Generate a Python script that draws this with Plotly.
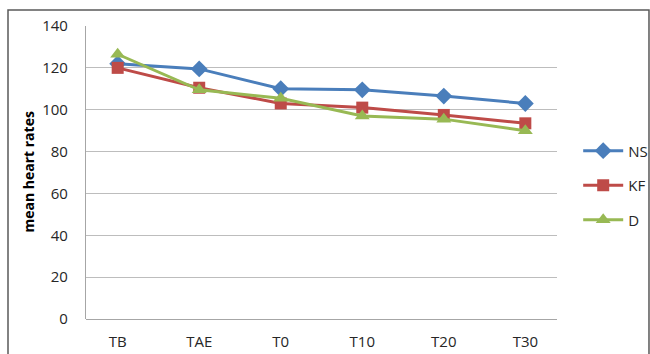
import plotly.graph_objects as go

# Mean heart rate at each measurement time, per group
times = ["TB", "TAE", "T0", "T10", "T20", "T30"]
ns_values = [122, 119.5, 110, 109.5, 106.5, 103]
kf_values = [120, 110.5, 103, 101, 97.5, 93.5]
d_values = [126.5, 109.5, 105.5, 97, 95.5, 90]

series = [
    ("NS", ns_values, "#4A7EBB", "diamond", 13),
    ("KF", kf_values, "#BE4B48", "square", 12),
    ("D", d_values, "#98B954", "triangle-up", 13),
]

fig = go.Figure()
for name, vals, color, symbol, size in series:
    fig.add_trace(go.Scatter(
        x=times, y=vals, name=name, mode="lines+markers",
        legendgroup=name,
        line=dict(color=color, width=3),
        marker=dict(symbol=symbol, size=size, color=color),
    ))

font_family = "Open Sans, Liberation Sans, sans-serif"

fig.update_layout(
    width=650, height=354,
    margin=dict(l=86, r=93, t=26, b=35, autoexpand=False),
    paper_bgcolor="white", plot_bgcolor="white",
    font=dict(family=font_family, size=15, color="#262626"),
    showlegend=True,
    legend=dict(
        x=1.045, y=0.63, xanchor="left", yanchor="top",
        font=dict(size=15, color="#262626"),
        tracegroupgap=12, itemwidth=40,
        bgcolor="rgba(0,0,0,0)",
    ),
    xaxis=dict(
        type="category", showgrid=False, showline=False, automargin=False,
        zeroline=False, ticks="", ticklabelstandoff=12,
        tickfont=dict(size=15),
    ),
    yaxis=dict(
        range=[0, 140], dtick=20, showgrid=True, gridcolor="#BDBDBD",
        gridwidth=1.2, showline=True, linecolor="#A6A6A6", linewidth=1.2,
        zeroline=True, zerolinecolor="#A6A6A6", zerolinewidth=1.2,
        automargin=False,
        ticks="", ticklabelstandoff=14, tickfont=dict(size=15),
    ),
    annotations=[dict(
        text="<b>mean heart rates</b>", textangle=-90,
        xref="paper", yref="paper", x=-0.123, y=0.5,
        xanchor="center", yanchor="middle", showarrow=False,
        font=dict(size=14, color="#000000"),
    )],
    shapes=[dict(
        type="rect", xref="paper", yref="paper",
        x0=-0.1656, x1=1.1953, y0=-0.15, y1=1.0546,
        line=dict(color="#595959", width=1.5), layer="below",
    )],
)

fig.write_html("out.html")
